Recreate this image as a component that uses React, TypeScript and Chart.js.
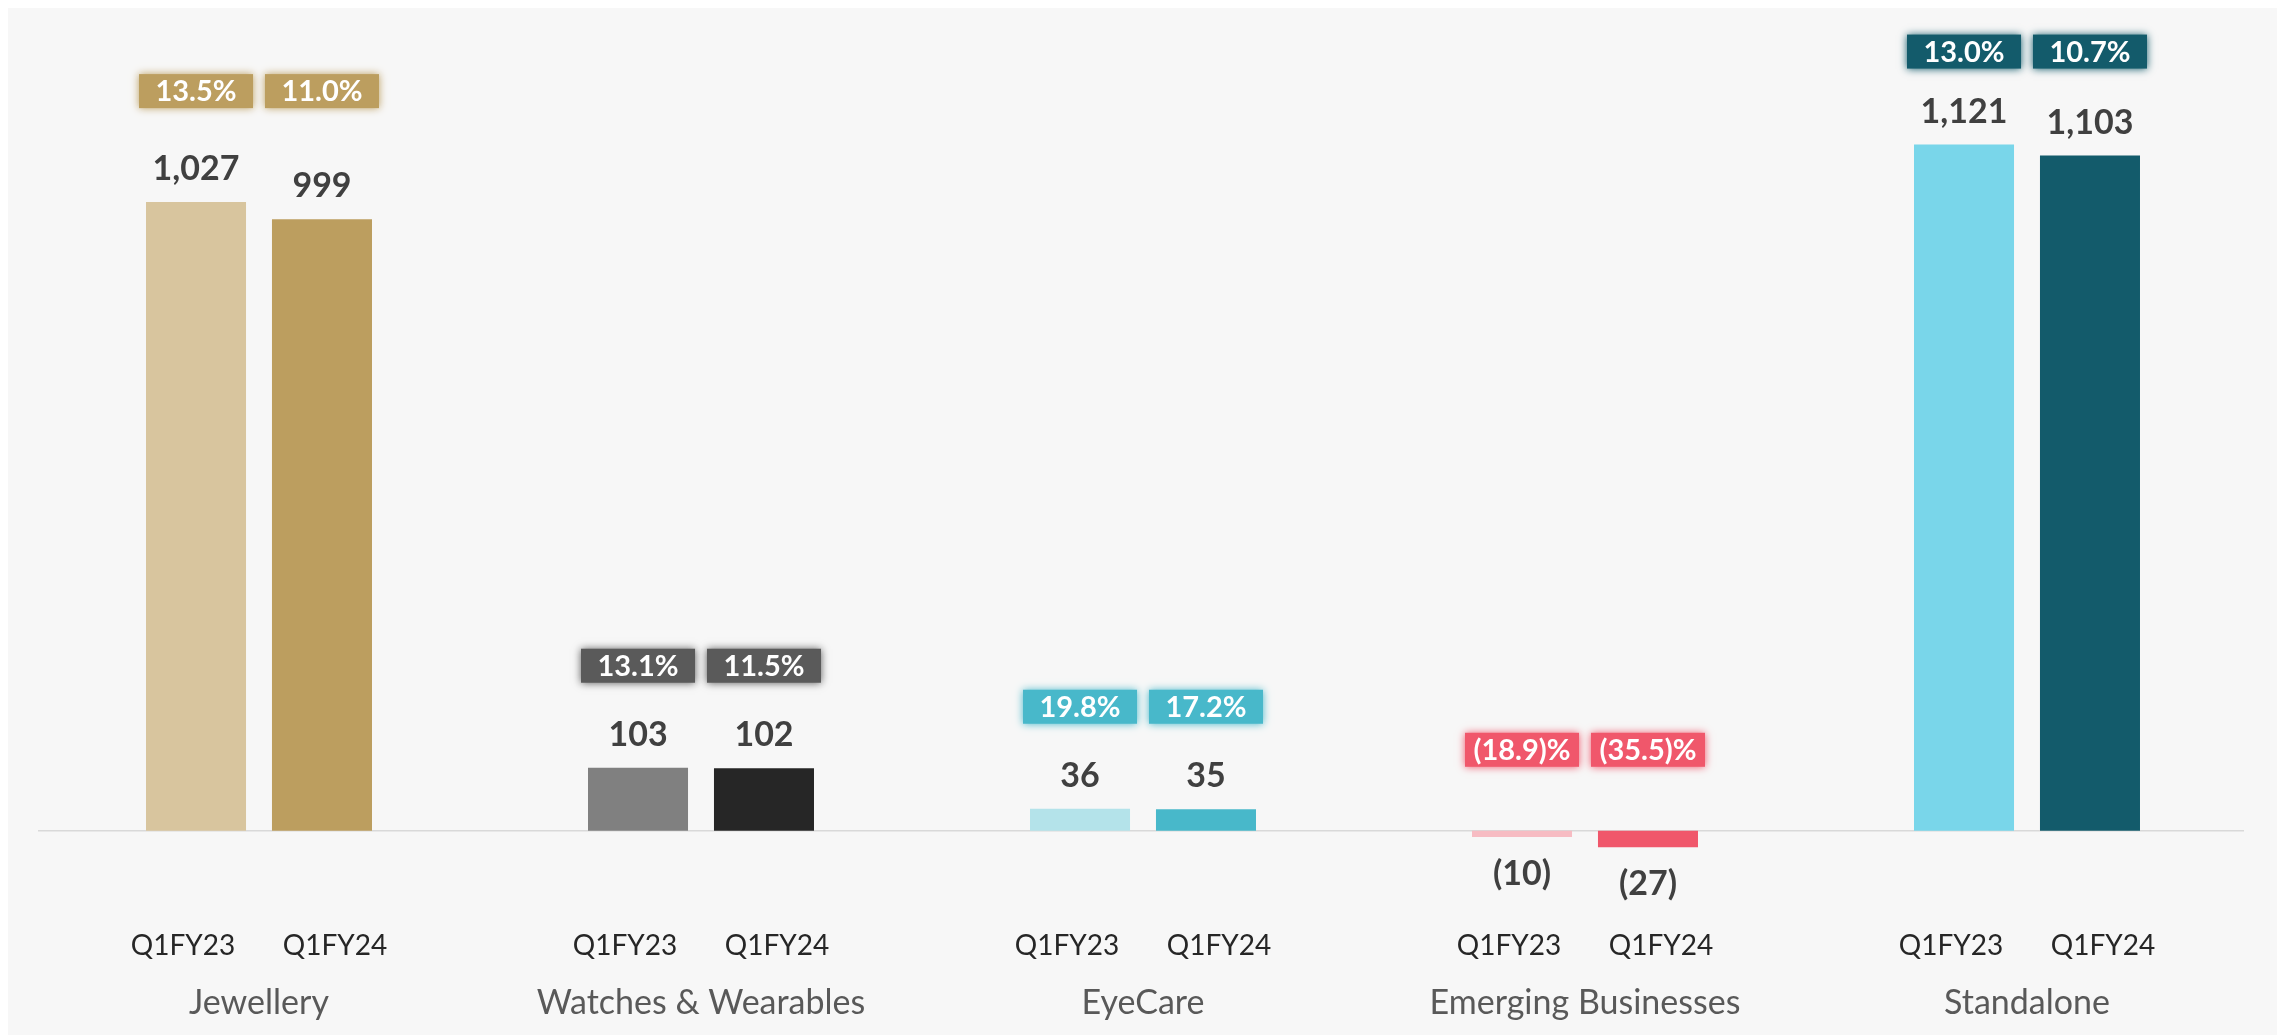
import React, { useEffect, useRef } from "react";
import { Chart, registerables } from "chart.js";

Chart.register(...registerables);

const categories = ["Jewellery", "Watches & Wearables", "EyeCare", "Emerging Businesses", "Standalone"];
const periods = ["Q1FY23", "Q1FY24"];
const valuesQ1FY23 = [1027, 103, 36, -10, 1121];
const valuesQ1FY24 = [999, 102, 35, -27, 1103];
const marginsQ1FY23 = [13.5, 13.1, 19.8, -18.9, 13.0];
const marginsQ1FY24 = [11.0, 11.5, 17.2, -35.5, 10.7];

const colorsQ1FY23 = ["#d8c59e", "#808080", "#b4e3ea", "#f7bcc3", "#79d6ea"];
const colorsQ1FY24 = ["#bc9e5f", "#262626", "#48b8ca", "#f0576b", "#135b6b"];
const boxColors = ["#bc9e5f", "#5a5a5a", "#48b8ca", "#f0576b", "#135b6b"];
const boxOffsets = [111, 102, 102, 81, 93];

const fmtValue = (v: number) => {
  const s = Math.abs(v).toLocaleString("en-US");
  return v < 0 ? `(${s})` : s;
};
const fmtMargin = (v: number) => {
  const s = Math.abs(v).toFixed(1);
  return v < 0 ? `(${s})%` : `${s}%`;
};

const annotate = {
  id: "annotate",
  beforeDraw(chart: any) {
    const { ctx, width, height } = chart;
    ctx.save();
    ctx.fillStyle = "#f7f7f7";
    ctx.fillRect(0, 0, width, height);
    ctx.restore();
  },
  beforeDatasetsDraw(chart: any) {
    const { ctx, chartArea, scales } = chart;
    const y0 = scales.y.getPixelForValue(0);
    ctx.save();
    ctx.strokeStyle = "#d9d9d9";
    ctx.lineWidth = 1.5;
    ctx.beginPath();
    ctx.moveTo(chartArea.left, y0);
    ctx.lineTo(chartArea.right - 4, y0);
    ctx.stroke();
    ctx.restore();
  },
  afterDatasetsDraw(chart: any) {
    const { ctx, scales } = chart;
    const y0 = scales.y.getPixelForValue(0);
    const series = [valuesQ1FY23, valuesQ1FY24];
    const margins = [marginsQ1FY23, marginsQ1FY24];
    ctx.save();
    categories.forEach((cat, i) => {
      let groupTop = y0;
      const els = [0, 1].map((d) => chart.getDatasetMeta(d).data[i]);
      els.forEach((el: any, d) => {
        const v = series[d][i];
        groupTop = Math.min(groupTop, el.y);
        ctx.fillStyle = "#404040";
        ctx.font = "bold 34px Lato";
        ctx.textAlign = "center";
        ctx.textBaseline = "alphabetic";
        if (v >= 0) ctx.fillText(fmtValue(v), el.x, el.y - 22);
        else ctx.fillText(fmtValue(v), el.x, el.y + 48);
        ctx.fillStyle = "#262626";
        ctx.font = "28px Lato";
        ctx.fillText(periods[d], el.x + (d === 0 ? -13 : 13), 950);
      });
      els.forEach((el: any, d) => {
        const cy = groupTop - boxOffsets[i];
        const w = 114, h = 34;
        ctx.save();
        ctx.fillStyle = boxColors[i];
        ctx.shadowColor = boxColors[i];
        ctx.shadowBlur = 8;
        ctx.fillRect(el.x - w / 2, cy - h / 2, w, h);
        ctx.restore();
        ctx.fillStyle = "#ffffff";
        ctx.font = "bold 29px Lato";
        ctx.textAlign = "center";
        ctx.textBaseline = "alphabetic";
        ctx.fillText(fmtMargin(margins[d][i]), el.x, cy + 10);
      });
      ctx.fillStyle = "#595959";
      ctx.font = "34px Lato";
      ctx.textAlign = "center";
      ctx.fillText(cat, scales.x.getPixelForValue(i), 1009);
    });
    ctx.restore();
  },
};

export default function App() {
  const ref = useRef<HTMLCanvasElement>(null);
  useEffect(() => {
    if (!ref.current) return;
    const chart = new Chart(ref.current, {
      type: "bar",
      data: {
        labels: categories,
        datasets: [
          {
            label: periods[0],
            data: valuesQ1FY23,
            backgroundColor: colorsQ1FY23,
            barPercentage: 0.794,
            categoryPercentage: 0.57,
          },
          {
            label: periods[1],
            data: valuesQ1FY24,
            backgroundColor: colorsQ1FY24,
            barPercentage: 0.794,
            categoryPercentage: 0.57,
          },
        ],
      },
      options: {
        responsive: false,
        animation: false,
        devicePixelRatio: 1,
        layout: { padding: { left: 30, right: 29, top: 30, bottom: 143 } },
        plugins: { legend: { display: false }, tooltip: { enabled: false } },
        scales: {
          x: { display: false, offset: true, grid: { display: false } },
          y: { display: false, min: -100, max: 1300 },
        },
      },
      plugins: [annotate],
    } as any);
    return () => chart.destroy();
  }, []);
  return (
    <div style={{ marginTop: -3 }}>
      <canvas ref={ref} width={2269} height={1030} style={{ display: "block" }} />
    </div>
  );
}
